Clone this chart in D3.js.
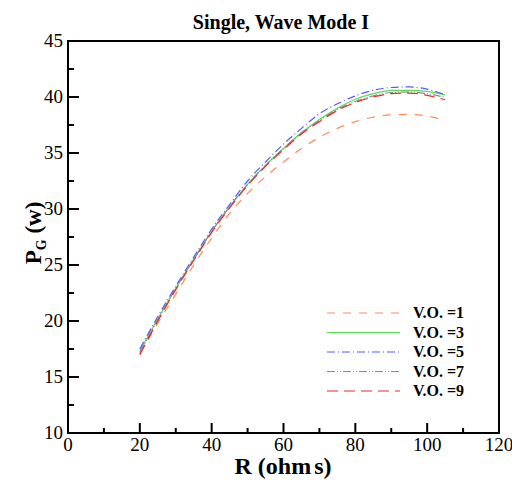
<!DOCTYPE html>
<html>
<head>
<meta charset="utf-8">
<script src="https://cdn.jsdelivr.net/npm/d3@7"></script>
<style>
  body { margin: 0; background: #fff; }
  text { font-family: "Liberation Serif", "Times New Roman", serif; }
</style>
</head>
<body>
<svg id="chart" width="512" height="480"></svg>
<script>
// resistance values (x)
const rValues = [20, 25, 30, 35, 40, 45, 50, 55, 60, 65, 70, 75, 80, 85, 90, 95, 100, 105];

// generated power for each V.O.
const vo1 = [17.1, 19.8, 22.4, 25.0, 27.4, 29.6, 31.4, 32.9, 34.2, 35.4, 36.4, 37.2, 37.8, 38.2, 38.4, 38.45, 38.3, 37.9];
const vo3 = [17.3, 20.2, 22.9, 25.5, 28.0, 30.2, 32.2, 33.9, 35.4, 36.8, 38.0, 39.0, 39.8, 40.3, 40.6, 40.6, 40.5, 40.2];
const vo5 = [17.5, 20.4, 23.1, 25.7, 28.2, 30.4, 32.5, 34.2, 35.8, 37.2, 38.5, 39.4, 40.1, 40.6, 40.85, 40.9, 40.7, 40.2];
const vo7 = [17.2, 20.1, 22.9, 25.5, 28.0, 30.2, 32.2, 33.9, 35.4, 36.8, 37.9, 38.9, 39.6, 40.1, 40.4, 40.45, 40.3, 39.95];
const vo9 = [17.0, 20.0, 22.8, 25.4, 27.9, 30.1, 32.1, 33.8, 35.3, 36.7, 37.8, 38.8, 39.5, 40.0, 40.3, 40.35, 40.15, 39.75];

const seriesNames = ["V.O. =1", "V.O. =3", "V.O. =5", "V.O. =7", "V.O. =9"];
const xTicks = [0, 20, 40, 60, 80, 100, 120];
const yTicks = [10, 15, 20, 25, 30, 35, 40, 45];

const series = [
    { name: seriesNames[0], values: vo1, color: "#ff8c5a", dash: "8,8" },
    { name: seriesNames[1], values: vo3, color: "#55dd55", dash: null },
    { name: seriesNames[2], values: vo5, color: "#5a5aff", dash: "8,3,1,3" },
    { name: seriesNames[3], values: vo7, color: "#8c8c8c", dash: "8,2,1,2,1,2" },
    { name: seriesNames[4], values: vo9, color: "#e82a2a", dash: "11,6" }
];

const svg = d3.select("#chart");
const plotL = 68, plotR = 499, plotT = 41, plotB = 433;

const x = d3.scaleLinear().domain([0, 120]).range([plotL, plotR]);
const y = d3.scaleLinear().domain([10, 45]).range([plotB, plotT]);

// title
svg.append("text")
    .attr("x", 281).attr("y", 29)
    .attr("text-anchor", "middle")
    .style("font-size", "20px").style("font-weight", "bold")
    .text("Single, Wave Mode I");

// curves
const line = d3.line()
    .x((d, i) => x(rValues[i]))
    .y(d => y(d))
    .curve(d3.curveMonotoneX);

series.forEach(s => {
    svg.append("path")
        .datum(s.values)
        .attr("d", line)
        .attr("fill", "none")
        .attr("stroke", s.color)
        .attr("stroke-width", 1.2)
        .attr("stroke-dasharray", s.dash);
});

// minor + major ticks, pointing inward
const xMinor = d3.range(10, 120, 20);
const yMinor = d3.range(12.5, 45, 5);
const tickG = svg.append("g").attr("stroke", "#000").attr("stroke-width", 2);
xTicks.slice(1, -1).forEach(t => tickG.append("line")
    .attr("x1", x(t)).attr("x2", x(t)).attr("y1", plotB).attr("y2", plotB - 10));
xMinor.forEach(t => tickG.append("line")
    .attr("x1", x(t)).attr("x2", x(t)).attr("y1", plotB).attr("y2", plotB - 5));
yTicks.slice(1, -1).forEach(t => tickG.append("line")
    .attr("x1", plotL).attr("x2", plotL + 11).attr("y1", y(t)).attr("y2", y(t)));
yMinor.forEach(t => tickG.append("line")
    .attr("x1", plotL).attr("x2", plotL + 6).attr("y1", y(t)).attr("y2", y(t)));

// frame
svg.append("rect")
    .attr("x", plotL).attr("y", plotT)
    .attr("width", plotR - plotL).attr("height", plotB - plotT)
    .attr("fill", "none").attr("stroke", "#000").attr("stroke-width", 2);

// tick labels
svg.selectAll(".xlab").data(xTicks).enter().append("text")
    .attr("x", d => x(d)).attr("y", plotB + 18)
    .attr("text-anchor", "middle")
    .style("font-size", "19px")
    .text(d => d);

svg.selectAll(".ylab").data(yTicks).enter().append("text")
    .attr("x", plotL - 5).attr("y", d => y(d) + 6)
    .attr("text-anchor", "end")
    .style("font-size", "19px")
    .text(d => d);

// axis titles
const xt = svg.append("text")
    .attr("x", 283).attr("y", 474)
    .attr("text-anchor", "middle")
    .style("font-size", "24px").style("font-weight", "bold");
xt.append("tspan").text("R (ohm");
xt.append("tspan").attr("dx", 3).text("s)");

const yt = svg.append("text")
    .attr("transform", "translate(41,233) rotate(-90)")
    .attr("text-anchor", "middle")
    .style("font-size", "23px").style("font-weight", "bold");
yt.append("tspan").text("P");
yt.append("tspan").attr("dy", 5).style("font-size", "14px").text("G");
yt.append("tspan").attr("dy", -5).text(" (w)");

// legend
const legend = svg.append("g");
series.forEach((s, i) => {
    const ly = 313 + i * 19.5;
    legend.append("line")
        .attr("x1", 327).attr("x2", 400).attr("y1", ly).attr("y2", ly)
        .attr("stroke", s.color).attr("stroke-width", 1.2)
        .attr("stroke-dasharray", s.dash);
    legend.append("text")
        .attr("x", 413).attr("y", ly + 5)
        .style("font-size", "16px").style("font-weight", "bold")
        .text(s.name);
});
</script>
</body>
</html>
